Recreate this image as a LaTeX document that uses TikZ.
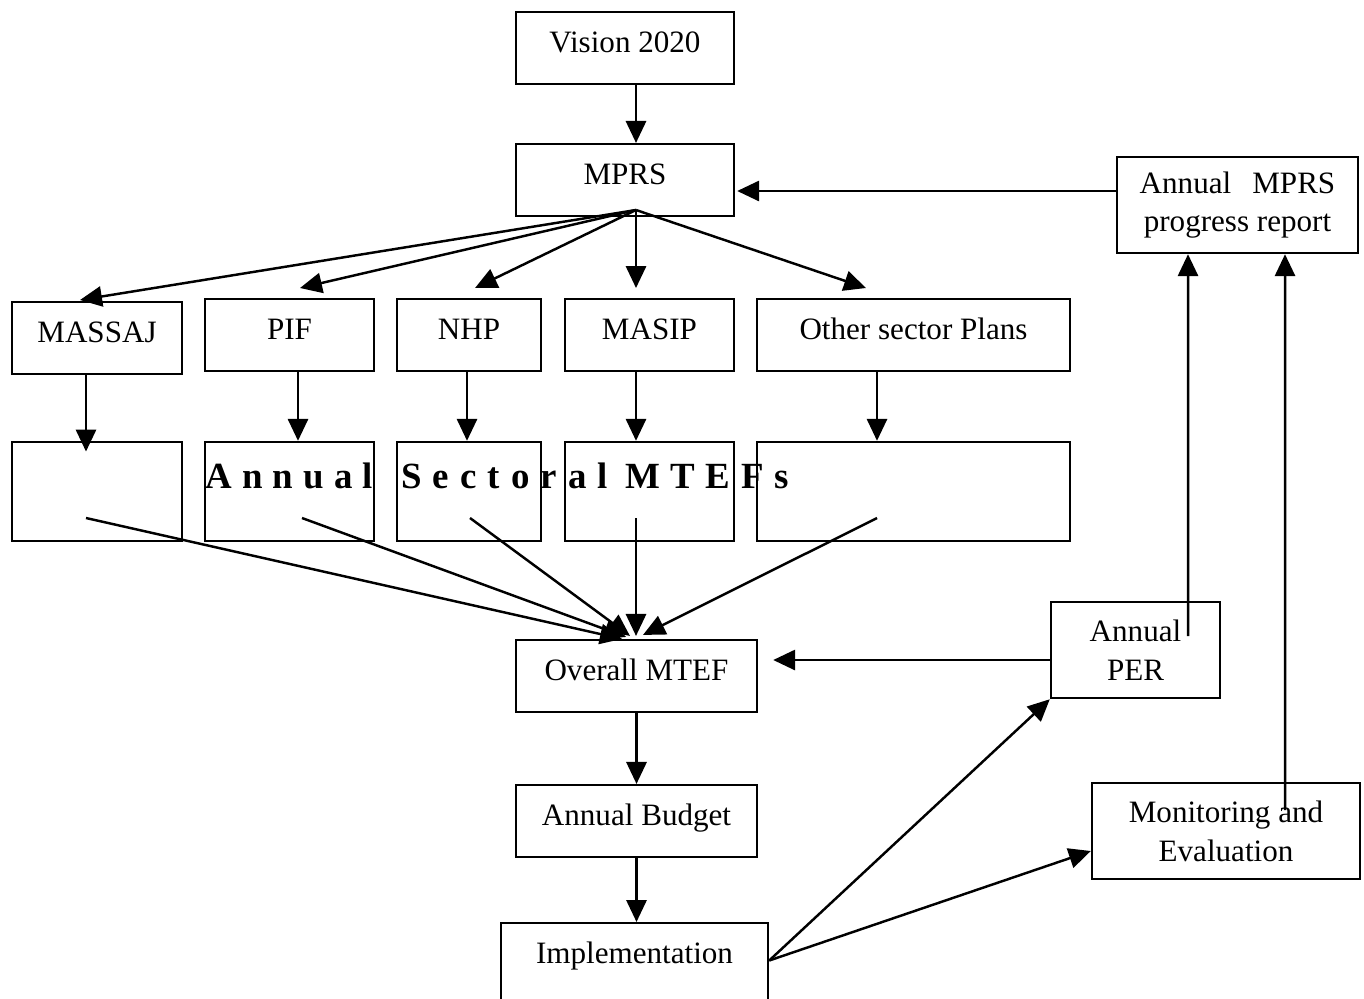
\documentclass[tikz,border=0pt]{standalone}
\usepackage{fontspec}
\setmainfont{Liberation Serif}
\usetikzlibrary{arrows.meta,positioning}

\begin{document}
\begin{tikzpicture}[x=0.02cm,y=-0.02cm,
    every node/.style={font=\fontsize{17.7}{22.1}\selectfont},
    onebox/.style={draw,line width=1.4pt,inner sep=0pt,text height=22.7pt,text depth=18.1pt},
    twobox/.style={draw,line width=1.4pt,inner sep=0pt,align=center,minimum height=1.92cm},
    emptybox/.style={draw,line width=1.4pt,minimum height=1.98cm},
    arr/.style={-{Triangle[length=12.5pt,width=11.5pt]},line width=1.4pt}]
                \useasboundingbox (0,0) rectangle (1364,998);
                \clip (0,0) rectangle (1364,998);
                \node [onebox,minimum width=4.36cm] (vision) at (625,48) {Vision 2020};
                \node [onebox,minimum width=4.36cm] (mprs) at (625,180) {MPRS};
                \node [twobox,minimum width=4.82cm] (report) at (1237.5,205) {Annual\hspace{12pt}MPRS\\progress report};
                \node [onebox,minimum width=3.40cm] (massaj) at (97,338) {MASSAJ};
                \node [onebox,minimum width=3.38cm] (pif) at (289.5,335) {PIF};
                \node [onebox,minimum width=2.88cm] (nhp) at (469,335) {NHP};
                \node [onebox,minimum width=3.38cm] (masip) at (649.5,335) {MASIP};
                \node [onebox,minimum width=6.26cm] (other) at (913.5,335) {Other sector Plans};
                \node [emptybox,minimum width=3.40cm] (mtefa) at (97,491.5) {};
                \node [emptybox,minimum width=3.38cm] (mtefb) at (289.5,491.5) {};
                \node [emptybox,minimum width=2.88cm] (mtefc) at (469,491.5) {};
                \node [emptybox,minimum width=3.38cm] (mtefd) at (649.5,491.5) {};
                \node [emptybox,minimum width=6.26cm] (mtefe) at (913.5,491.5) {};
                \node [anchor=base west,inner sep=0pt,font=\fontsize{21}{25}\selectfont\bfseries] (sectoral) at (205,488)
                    {A\kern5.8pt n\kern5.8pt n\kern5.8pt u\kern5.8pt a\kern5.8pt l\kern16pt S\kern6.3pt e\kern6.3pt c\kern6.3pt t\kern6.3pt o\kern6.3pt r\kern6.3pt a\kern6.3pt l\kern10pt M\kern6pt T\kern6pt E\kern6pt F\kern6pt s};
                \node [onebox,minimum width=4.82cm] (overall) at (636.5,676) {Overall MTEF};
                \node [onebox,minimum width=4.82cm] (budget) at (636.5,821) {Annual Budget};
                \node [onebox,minimum width=5.34cm,text depth=26.6pt] (impl) at (634.5,966.5) {Implementation};
                \node [twobox,minimum width=3.38cm] (per) at (1135.5,650) {Annual\\PER};
                \node [twobox,minimum width=5.36cm] (monitor) at (1226,831) {Monitoring and\\Evaluation};
                \draw [arr] ([shift={(11,0)}]vision.south) -- ([shift={(11,0)}]mprs.north);
                \draw [arr] ([shift={(0,-14)}]report.west) -- ([shift={(2,11)}]mprs.east);
                \draw [arr] ([shift={(11,30)}]mprs.center) -- ([shift={(-17,-38)}]massaj.center);
                \draw [arr] ([shift={(11,30)}]mprs.center) -- ([shift={(10.5,-47)}]pif.center);
                \draw [arr] ([shift={(11,30)}]mprs.center) -- ([shift={(6,-47)}]nhp.center);
                \draw [arr] ([shift={(11,30)}]mprs.center) -- ([shift={(-13.5,-47)}]masip.center);
                \draw [arr] ([shift={(11,30)}]mprs.center) -- ([shift={(-47.5,-47)}]other.center);
                \draw [arr] ([shift={(-11,0)}]massaj.south) -- ([shift={(-11,-40)}]mtefa.center);
                \draw [arr] ([shift={(8.5,0)}]pif.south) -- ([shift={(8.5,0)}]mtefb.north);
                \draw [arr] ([shift={(-2,0)}]nhp.south) -- ([shift={(-2,0)}]mtefc.north);
                \draw [arr] ([shift={(-13.5,0)}]masip.south) -- ([shift={(-13.5,0)}]mtefd.north);
                \draw [arr] ([shift={(-36.5,0)}]other.south) -- ([shift={(-36.5,0)}]mtefe.north);
                \draw [arr] ([shift={(-11,26.5)}]mtefa.center) -- ([shift={(-14.5,0)}]overall.north);
                \draw [arr] ([shift={(12.5,26.5)}]mtefb.center) -- ([shift={(-10.5,-2)}]overall.north);
                \draw [arr] ([shift={(1,26.5)}]mtefc.center) -- ([shift={(-6.5,-3)}]overall.north);
                \draw [arr] ([shift={(-13.5,26.5)}]mtefd.center) -- ([shift={(-0.5,-3)}]overall.north);
                \draw [arr] ([shift={(-36.5,26.5)}]mtefe.center) -- ([shift={(6.5,-4)}]overall.north);
                \draw [arr] (overall.south) -- (budget.north);
                \draw [arr] (budget.south) -- (budget.south |- impl.north);
                \draw [arr] ([shift={(0,-6)}]impl.east) -- (per.south west);
                \draw [arr] ([shift={(0,-6)}]impl.east) -- ([shift={(0,20)}]monitor.west);
                \draw [arr] ([shift={(0,10)}]per.west) -- ([shift={(15,-16)}]overall.east);
                \draw [arr] ([shift={(52.5,-14)}]per.center) -- ([shift={(-49.5,0)}]report.south);
                \draw [arr] ([shift={(59,-21)}]monitor.center) -- ([shift={(47.5,0)}]report.south);
\end{tikzpicture}
\end{document}
